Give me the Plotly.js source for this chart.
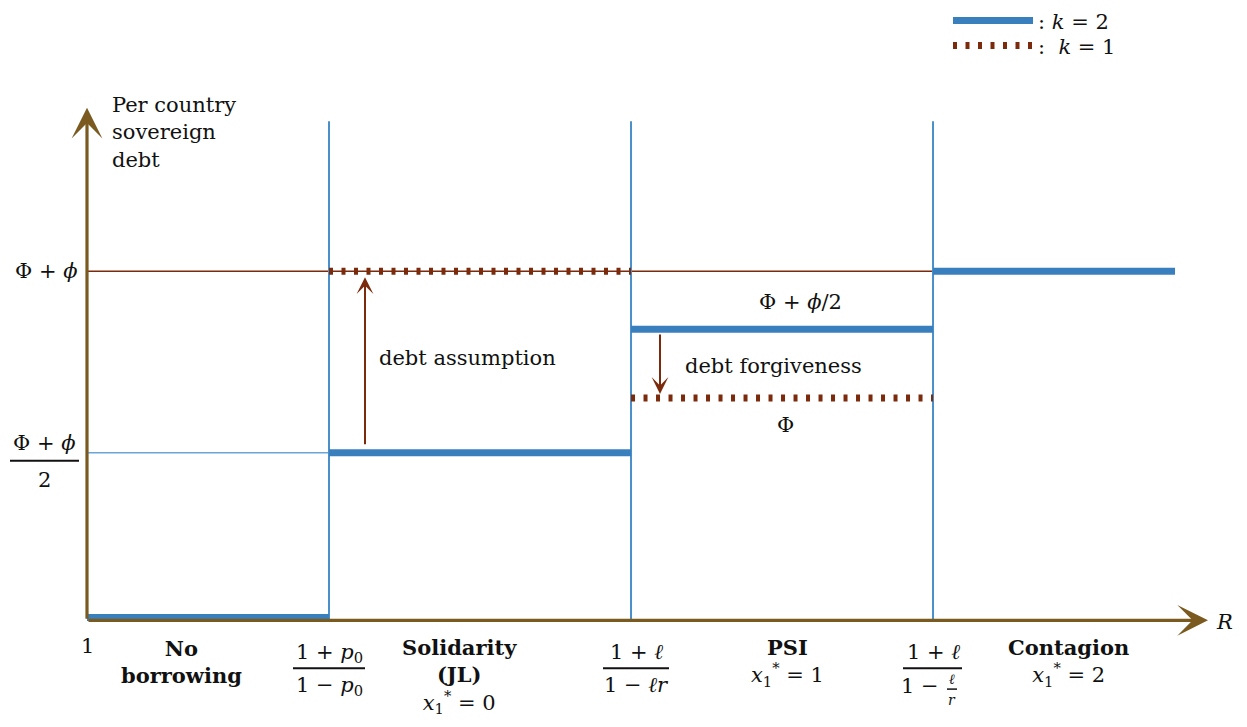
<!DOCTYPE html>
<html>
<head>
<meta charset="utf-8">
<script src="https://cdn.plot.ly/plotly-3.0.1.min.js"></script>
<style>html,body{margin:0;padding:0;background:#fff;}#chart{width:1247px;height:727px;}</style>
</head>
<body>
<div id="chart"></div>
<script>
// ---- data (normalised schematic units) ----
// R-axis region boundaries: 1, (1+p0)/(1-p0), (1+l)/(1-lr), (1+l)/(1-l/r), end of drawn region
const regionBounds = [0, 1, 2.248, 3.496, 4.496];
// per-country sovereign debt, k = 2 (one value per region)
const debtK2 = [0.008, 0.48, 0.834, 1.0];
// per-country sovereign debt, k = 1 (only drawn in the middle two regions)
const debtK1 = [null, 1.0, 0.637, null];
// reference levels on the y axis
const levelFull = 1.0;    // Phi + phi
const levelHalf = 0.48;   // (Phi + phi)/2
const boundaryTop = 1.43; // top of the vertical region separators
const regionNames = ["<b>No</b><br><b>borrowing</b>", "<b>Solidarity</b><br><b>(JL)</b><br><i>x</i><sub>1</sub><sup>*</sup> = 0",
                     "<b>PSI</b><br><i>x</i><sub>1</sub><sup>*</sup> = 1", "<b>Contagion</b><br><i>x</i><sub>1</sub><sup>*</sup> = 2"];

// ---- pixel helpers for layout placement ----
const X0 = 87, XU = 242, Y0 = 620, YU = 350;
const px = v => (v - X0) / XU;
const py = v => (Y0 - v) / YU;

const BLUE = '#3a7fbd', BLUE_THIN = '#4a8fca', RED = '#7b2a0c', BROWN = '#7a5a1f';
const FONT = 'DejaVu Serif, Liberation Serif, serif';
const FS = 21;

function segs(vals) {
  const x = [], y = [];
  vals.forEach((v, i) => {
    if (v === null) return;
    x.push(regionBounds[i], regionBounds[i + 1], null);
    y.push(v, v, null);
  });
  return {x, y};
}

const traces = [];
// thin reference lines
traces.push({x: [regionBounds[0], regionBounds[3]], y: [levelFull, levelFull], mode: 'lines',
  line: {color: RED, width: 1.5}, showlegend: false, hoverinfo: 'skip'});
traces.push({x: [regionBounds[0], regionBounds[1]], y: [levelHalf, levelHalf], mode: 'lines',
  line: {color: '#6aa6d8', width: 1.5}, showlegend: false, hoverinfo: 'skip'});
// vertical region separators
regionBounds.slice(1, 4).forEach(b => {
  traces.push({x: [b, b], y: [0, boundaryTop], mode: 'lines', line: {color: BLUE_THIN, width: 2},
    showlegend: false, hoverinfo: 'skip'});
});
const s2 = segs(debtK2), s1 = segs(debtK1);
traces.push({x: s2.x, y: s2.y, mode: 'lines', name: ': <i>k</i> = 2', legend: 'legend',
  line: {color: BLUE, width: 7}, connectgaps: false});
traces.push({x: s1.x, y: s1.y, mode: 'lines', name: ':  <i>k</i> = 1', legend: 'legend2',
  line: {color: RED, width: 7, dash: '4px,8.5px'}, connectgaps: false});

const ann = [];
function txt(x, y, text, opts) {
  ann.push(Object.assign({x: px(x), y: py(y), xref: 'x', yref: 'y', text: text, showarrow: false,
    font: {family: FONT, size: FS, color: '#111'}, xanchor: 'center', yanchor: 'middle'}, opts || {}));
}
const shapes = [];
function hbar(x1, x2, y, w) {
  shapes.push({type: 'line', xref: 'x', yref: 'y', x0: px(x1), x1: px(x2), y0: py(y), y1: py(y),
    line: {color: '#111', width: w || 2}});
}
// axes with arrowheads
ann.push({x: px(1208), y: 0, ax: 0, ay: 0, axref: 'x', ayref: 'y', xref: 'x', yref: 'y', text: '',
  showarrow: true, arrowhead: 3, arrowwidth: 3.2, arrowsize: 1.6, arrowcolor: BROWN});
ann.push({x: 0, y: py(106), ax: 0, ay: 0, axref: 'x', ayref: 'y', xref: 'x', yref: 'y', text: '',
  showarrow: true, arrowhead: 3, arrowwidth: 3.2, arrowsize: 1.6, arrowcolor: BROWN});
// debt assumption / forgiveness arrows
ann.push({x: px(365), y: py(276), ax: px(365), ay: py(445), axref: 'x', ayref: 'y', xref: 'x', yref: 'y', text: '',
  showarrow: true, arrowhead: 3, arrowwidth: 2, arrowsize: 1.4, arrowcolor: RED});
ann.push({x: px(660), y: py(393), ax: px(660), ay: py(332), axref: 'x', ayref: 'y', xref: 'x', yref: 'y', text: '',
  showarrow: true, arrowhead: 3, arrowwidth: 2, arrowsize: 1.4, arrowcolor: RED});

// y-axis title
txt(110, 131, 'Per country<br>sovereign<br>debt', {xanchor: 'left', align: 'left'});
// y labels
txt(80, 270, 'Φ + <i>ϕ</i>', {xanchor: 'right'});
txt(44, 442, 'Φ + <i>ϕ</i>');
hbar(10, 79, 460, 2);
txt(44, 479, '2');
// inside labels
txt(377, 357, 'debt assumption', {xanchor: 'left'});
txt(800, 301, 'Φ + <i>ϕ</i>/2');
txt(683, 365, 'debt forgiveness', {xanchor: 'left'});
txt(785, 424, 'Φ');
// x labels
txt(87, 646, '1');
txt(1224, 622, '<i>R</i>');
txt(181, 662, regionNames[0]);
txt(459, 676, regionNames[1]);
txt(787, 662, regionNames[2]);
txt(1068, 662, regionNames[3]);
// fractions on the R axis
txt(329, 653, '1 + <i>p</i><sub>0</sub>'); hbar(293, 365, 668); txt(329, 686, '1 − <i>p</i><sub>0</sub>');
txt(636, 652, '1 + <i>ℓ</i>'); hbar(603, 669, 668); txt(636, 685, '1 − <i>ℓr</i>');
txt(933, 652, '1 + <i>ℓ</i>'); hbar(903, 962, 668); txt(920, 686, '1 −');
txt(952, 679, '<i>ℓ</i>', {font: {family: FONT, size: 14, color: '#111'}});
hbar(947, 957, 689, 1.5);
txt(952, 700, '<i>r</i>', {font: {family: FONT, size: 14, color: '#111'}});

const legFont = {family: FONT, size: FS, color: '#111'};
const layout = {
  width: 1247, height: 727,
  margin: {l: 0, r: 0, t: 0, b: 0},
  paper_bgcolor: '#fff', plot_bgcolor: '#fff',
  xaxis: {range: [px(0), px(1247)], visible: false, fixedrange: true},
  yaxis: {range: [py(727), py(0)], visible: false, fixedrange: true},
  showlegend: true,
  legend: {x: 948 / 1247, y: 1 - 19 / 727, xanchor: 'left', yanchor: 'middle', itemwidth: 80,
    font: legFont, bgcolor: 'rgba(0,0,0,0)'},
  legend2: {x: 948 / 1247, y: 1 - 44 / 727, xanchor: 'left', yanchor: 'middle', itemwidth: 80,
    font: legFont, bgcolor: 'rgba(0,0,0,0)'},
  annotations: ann,
  shapes: shapes
};
Plotly.newPlot('chart', traces, layout, {staticPlot: true});
</script>
</body>
</html>
